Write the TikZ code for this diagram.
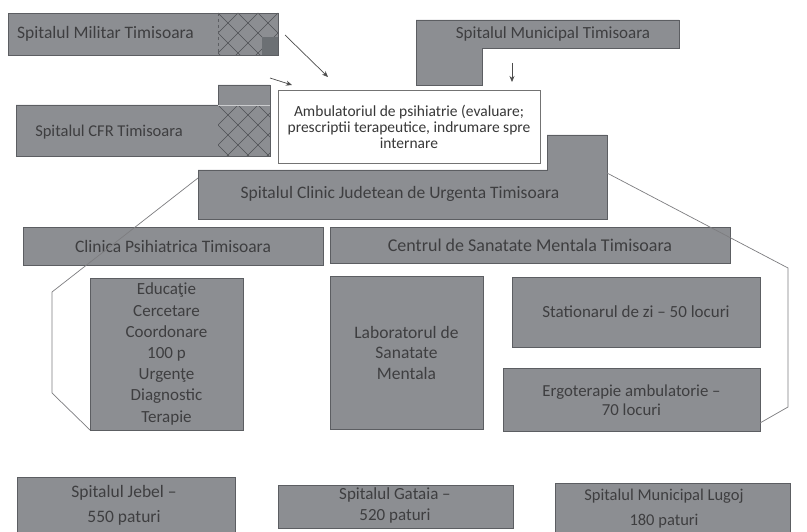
\documentclass[tikz,border=0pt]{standalone}
\usepackage{fontspec}
\setmainfont{Carlito}
\usetikzlibrary{arrows.meta}
\definecolor{boxfill}{RGB}{140,142,146}
\definecolor{boxline}{RGB}{92,94,98}
\definecolor{txt}{RGB}{62,62,64}
\definecolor{hatchc}{RGB}{78,80,84}
\definecolor{tabdark}{RGB}{108,112,116}
\definecolor{wireline}{RGB}{125,125,128}
\tikzset{
  gbox/.style={draw=boxline, fill=boxfill, line width=0.8pt},
  gtext/.style={text=txt, font=\fontsize{17.5}{21}\selectfont, align=center, inner sep=0pt},
  gnode/.style={gbox, gtext, outer sep=0pt},
  wbox/.style={draw=black!55, fill=white, line width=0.7pt, text=black!78,
    font=\fontsize{15.5}{16}\selectfont, align=center, inner sep=0pt, outer sep=0pt},
  hline/.style={draw=hatchc, line width=0.6pt},
  wire/.style={draw=wireline, line width=0.7pt},
  arr/.style={draw=black!70, line width=0.7pt, -{Stealth[length=6pt,width=5pt]}},
}
\begin{document}
\begin{tikzpicture}[x=1pt,y=-1pt]
\clip (0,0) rectangle (807,532);
\fill[white] (0,0) rectangle (807,532);

% ---- Spitalul Militar Timisoara
\path[gbox] (8,13) rectangle (278,55);
\begin{scope}
  \clip (218,13) rectangle (278,55);
  \foreach \k in {-80,-60,...,100} {
    \draw[hline] (218+\k,13) -- ++(50,50);
    \draw[hline] (218+\k,13) -- ++(-50,50);
  }
\end{scope}
\draw[boxline, dashed] (218,13) -- (218,55);
\fill[tabdark] (262,37) rectangle (278,55);
\draw[boxline, line width=0.8pt] (8,13) rectangle (278,55);
\node[gtext, anchor=west] (militar) at (17,34) {Spitalul Militar Timisoara};

% ---- Spitalul CFR Timisoara
\path[gbox] (16,105) -- (218,105) -- (218,85) -- (270,85) -- (270,156) -- (16,156) -- cycle;
\begin{scope}
  \clip (218,105) rectangle (270,156);
  \foreach \k in {-80,-60,...,100} {
    \draw[hline] (218+\k,105) -- ++(60,60);
    \draw[hline] (218+\k,105) -- ++(-60,60);
  }
\end{scope}
\draw[white!55!boxfill, line width=0.8pt] (218,105) -- (270,105);
\node[gtext, font=\fontsize{16.5}{19}\selectfont] (cfr) at (109,132) {Spitalul CFR Timisoara};

% ---- Spitalul Municipal Timisoara
\path[gbox] (416,20) -- (679,20) -- (679,48) -- (482,48) -- (482,85) -- (416,85) -- cycle;
\node[gtext, font=\fontsize{17}{20}\selectfont] (municipal) at (553,34) {Spitalul Municipal Timisoara};

% ---- Ambulatoriu
\node[wbox, minimum width=262pt, minimum height=73pt] (amb) at (409,126.5)
  {Ambulatoriul de psihiatrie (evaluare;\\prescriptii terapeutice, indrumare spre\\internare};

% ---- arrows
\coordinate (a1s) at (285,35);  \coordinate (a1e) at (328,77);
\coordinate (a2s) at (270,78);  \coordinate (a2e) at (292,85);
\coordinate (a3s) at (512,63);  \coordinate (a3e) at (512,82);
\draw[arr] (a1s) -- (a1e);
\draw[arr] (a2s) -- (a2e);
\draw[arr] (a3s) -- (a3e);

% ---- Spitalul Clinic Judetean
\path[gbox] (198,170) -- (547,170) -- (547,135) -- (607,135) -- (607,219) -- (198,219) -- cycle;
\node[gtext] (judetean) at (400,194) {Spitalul Clinic Judetean de Urgenta Timisoara};

% ---- second row
\node[gnode, minimum width=300pt, minimum height=38pt] (clinica) at (173,246) {Clinica Psihiatrica Timisoara};
\node[gnode, minimum width=400pt, minimum height=36pt, font=\fontsize{18}{21}\selectfont] (centrul) at (530,245) {Centrul de Sanatate Mentala Timisoara};

% ---- third block
\node[gnode, minimum width=153pt, minimum height=152pt, font=\fontsize{17}{21.2}\selectfont] (educ) at (166.5,354)
  {Educaţie\\Cercetare\\Coordonare\\100 p\\Urgenţe\\Diagnostic\\Terapie};
\node[gnode, minimum width=153pt, minimum height=153pt, font=\fontsize{17.5}{20.5}\selectfont] (lab) at (406.5,352.5)
  {Laboratorul de\\Sanatate\\Mentala};
\node[gnode, minimum width=248pt, minimum height=70pt, font=\fontsize{17}{20}\selectfont] (stat) at (636,312)
  {Stationarul de zi – 50 locuri};
\node[gnode, minimum width=257pt, minimum height=63pt, font=\fontsize{16.8}{19}\selectfont] (ergo) at (631.5,400)
  {Ergoterapie ambulatorie –\\70 locuri};

% ---- enclosing lines
\coordinate (lt) at (198,178);
\coordinate (lm1) at (52,292);
\coordinate (lm2) at (52,393);
\coordinate (rt) at (607,173);
\coordinate (rm1) at (788,268);
\coordinate (rm2) at (788,407);
\coordinate (re) at (760,423);
\draw[wire] (lt) -- (lm1) -- (lm2) -- (educ.south west);
\draw[wire] (rt) -- (rm1) -- (rm2) -- (re);

% ---- bottom row
\path[gbox] (17,477) rectangle (235,545);
\node[gtext, font=\fontsize{17.5}{25}\selectfont] (jebel) at (124,505) {Spitalul Jebel –\\550 paturi};
\path[gbox] (278,485) rectangle (513,528);
\node[gtext, font=\fontsize{17}{21}\selectfont] (gataia) at (395,505) {Spitalul Gataia –\\520 paturi};
\path[gbox] (555,483) rectangle (790,545);
\node[gtext, font=\fontsize{16.5}{25}\selectfont] (lugoj) at (664,509) {Spitalul Municipal Lugoj\\180 paturi};
\end{tikzpicture}
\end{document}
